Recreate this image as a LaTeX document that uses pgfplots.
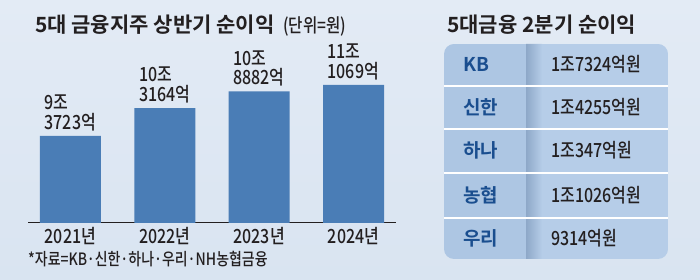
\documentclass[border=0pt]{standalone}
\usepackage{fontspec}
\setmainfont{Noto Sans CJK KR Medium}[FakeStretch=0.82]
\newfontfamily\titlefont{Noto Sans CJK KR Bold}
\usepackage{pgfplots}
\pgfplotsset{compat=1.18}
\definecolor{bgc}{HTML}{D9E4F1}
\definecolor{bgc2}{HTML}{E3EBF5}
\definecolor{barc}{HTML}{4A7DB6}
\definecolor{colA}{HTML}{ADC6E3}
\definecolor{colB}{HTML}{B6CDE8}
\definecolor{shad}{HTML}{8EA8C8}
\definecolor{lblue}{HTML}{1A4E8F}
\definecolor{txt}{HTML}{231F20}
\begin{document}
\begin{tikzpicture}[x=1pt,y=1pt]
\shade[top color=bgc2, bottom color=bgc] (0,0) rectangle (700,280);
\useasboundingbox (0,0) rectangle (700,280);
% left title
\node[anchor=base west, inner sep=0pt, text=txt] at (35,247.5) {\titlefont\fontsize{21}{21}\selectfont 5대 금융지주 상반기 순이익};
\node[anchor=base west, inner sep=0pt, text=txt] at (283,247.5) {\fontsize{19}{19}\selectfont (단위=원)};
\begin{axis}[at={(28pt,57pt)}, anchor=south west, scale only axis,
  width=368pt, height=190.8pt,
  xmin=-0.45, xmax=3.45, ymin=6.41, ymax=12.9,
  axis x line=bottom, axis y line=none,
  x axis line style={-, line width=1pt, draw=txt},
  ytick=\empty, xtick=data,
  xticklabels={2021년,2022년,2023년,2024년},
  major tick length=0pt,
  xticklabel style={font=\fontsize{19.5}{19.5}\selectfont, inner sep=0pt, yshift=-4pt, text=txt},
  ybar, bar width=61pt]
\addplot[fill=barc, draw=none, nodes near coords, point meta=explicit symbolic,
  nodes near coords style={anchor=south west, xshift=-26pt, yshift=5pt, align=left, inner sep=0pt,
  font=\fontsize{19.5}{19.5}\selectfont, text=txt}]
coordinates {
(0,9.3723) [{9조\\3723억}]
(1,10.3164) [{10조\\3164억}]
(2,10.8882) [{10조\\8882억}]
(3,11.1069) [{11조\\1069억}]
};
\end{axis}
\node[anchor=base west, inner sep=0pt, text=txt] at (28,14) {\fontsize{17}{17}\selectfont *자료=KB·신한·하나·우리·NH농협금융};
% right title
\node[anchor=base west, inner sep=0pt, text=txt] at (447,247) {\titlefont\fontsize{21}{21}\selectfont 5대금융 2분기 순이익};
% table
\begin{scope}
\clip[rounded corners=10pt] (444,21) rectangle (668,236);
\fill[colA] (444,21) rectangle (526,236);
\fill[colB] (526,21) rectangle (668,236);
\shade[left color=shad, right color=colB] (526,21) rectangle (542,236);
\end{scope}
\foreach \yy in {194,151,107,62} \draw[white, line width=1.5pt] (444,\yy) -- (668,\yy);
\foreach \yy/\lab/\val in {208/KB/1조7324억원, 165.5/신한/1조4255억원, 122/하나/1조347억원, 77.5/농협/1조1026억원, 34.5/우리/9314억원}{
  \node[anchor=base west, inner sep=0pt, text=lblue] at (463,\yy) {\titlefont\fontsize{19}{19}\selectfont \lab};
  \node[anchor=base west, inner sep=0pt, text=txt] at (551,\yy) {\fontsize{19.5}{19.5}\selectfont \val};
}
\end{tikzpicture}
\end{document}
